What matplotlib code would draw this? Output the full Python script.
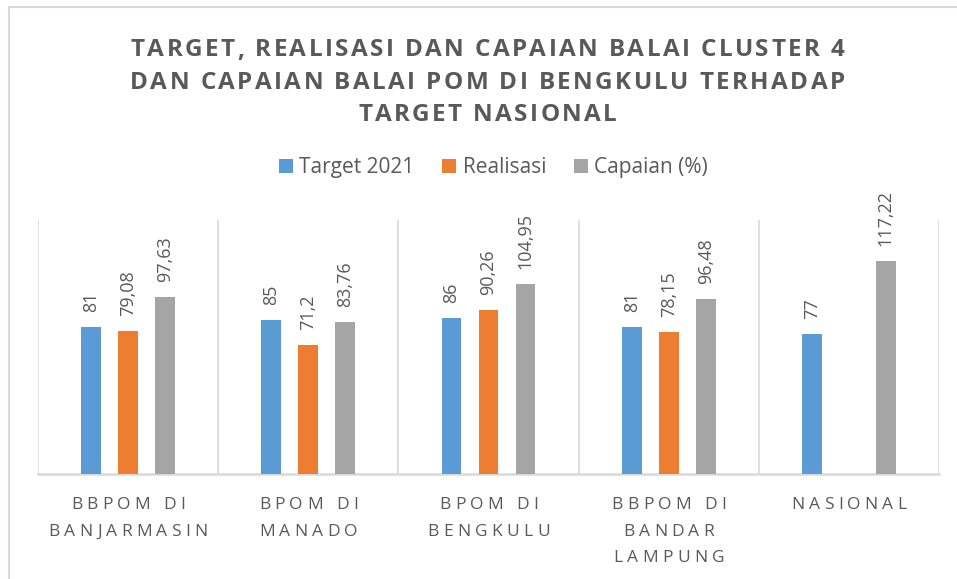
import matplotlib
matplotlib.use("Agg")
import matplotlib.pyplot as plt
import numpy as np
from matplotlib.font_manager import FontProperties
from matplotlib.patches import Patch, Rectangle

# data
categories = ["BBPOM DI\nBANJARMASIN", "BPOM DI\nMANADO", "BPOM DI\nBENGKULU",
              "BBPOM DI\nBANDAR\nLAMPUNG", "NASIONAL"]
target_2021 = [81, 85, 86, 81, 77]
realisasi = [79.08, 71.2, 90.26, 78.15, np.nan]
capaian = [97.63, 83.76, 104.95, 96.48, 117.22]
series_names = ["Target 2021", "Realisasi", "Capaian (%)"]
title_lines = ["TARGET, REALISASI DAN CAPAIAN BALAI CLUSTER 4",
               "DAN CAPAIAN BALAI POM DI BENGKULU TERHADAP",
               "TARGET NASIONAL"]

colors = ["#5B9BD5", "#ED7D31", "#A5A5A5"]
text_col = "#595959"
grid_col = "#D9D9D9"

W, H = 957, 579
fig = plt.figure(figsize=(W / 100, H / 100), dpi=100)
fig.patch.set_facecolor("white")

# chart border (cropped on the right and bottom)
fig.add_artist(Rectangle((9 / W, -0.05), 1.2, 1 - 7 / H + 0.05, transform=fig.transFigure,
                         fill=False, edgecolor=grid_col, linewidth=1.5))

ax = fig.add_axes([38 / W, 1 - 474 / H, (939 - 38) / W, (474 - 220) / H])
ax.set_xlim(-0.5, len(categories) - 0.5)
ax.set_ylim(0, 140)

x = np.arange(len(categories))
offsets = [-0.205, 0, 0.205]
width = 0.11
all_series = [target_2021, realisasi, capaian]
for vals, off, col, name in zip(all_series, offsets, colors, series_names):
    bars = ax.bar(x + off, vals, width, color=col, label=name, zorder=3)
    for xi, v in zip(x, vals):
        if np.isnan(v):
            continue
        ax.annotate(f"{v:g}".replace(".", ","), (xi + off, v), xytext=(0, 15),
                    textcoords="offset pixels", rotation=90, ha="center", va="bottom",
                    color=text_col, fontsize=13, family="Open Sans")

ax.vlines(np.arange(-0.5, len(categories), 1), 0, 140, color=grid_col, linewidth=1.2, zorder=1)
for s in ["top", "right", "left"]:
    ax.spines[s].set_visible(False)
ax.spines["bottom"].set_color(grid_col)
ax.spines["bottom"].set_linewidth(1.8)
ax.set_xticks([])
ax.set_yticks([])

renderer = fig.canvas.get_renderer()


def spaced_text(s, cx, base_y, prop, track, color):
    # draws text with extra letter spacing, positions in pixels from top-left
    w0 = renderer.get_text_width_height_descent("HH", prop, ismath=False)[0]
    widths = [renderer.get_text_width_height_descent("H" + ch + "H", prop, ismath=False)[0] - w0
              for ch in s]
    total = sum(widths) + track * (len(s) - 1)
    xp = cx - total / 2
    for ch, w in zip(s, widths):
        if ch != " ":
            fig.text(xp / W, 1 - base_y / H, ch, fontproperties=prop, color=color,
                     ha="left", va="baseline")
        xp += w + track


title_prop = FontProperties(family="Open Sans", weight="bold", size=17.5)
for i, line in enumerate(title_lines):
    spaced_text(line, 487.5, 56.5 + 32.4 * i, title_prop, 2.4, text_col)

tick_prop = FontProperties(family="Open Sans", size=12.5)
for xi, cat in zip(x, categories):
    cx = ax.transData.transform((xi, 0))[0]
    for j, line in enumerate(cat.split("\n")):
        spaced_text(line, cx, 509 + 26.5 * j, tick_prop, 4.3, text_col)

handles = [Patch(facecolor=c, edgecolor="none") for c in colors]
leg = fig.legend(handles, series_names, loc="center", bbox_to_anchor=(0.5157, 1 - 168 / H),
                 ncol=3, frameon=False, prop={"family": "Open Sans", "size": 15},
                 handlelength=0.67, handleheight=0.67, handletextpad=0.3, columnspacing=1.35)
for t in leg.get_texts():
    t.set_color(text_col)

fig.savefig("out.png", dpi=100)
